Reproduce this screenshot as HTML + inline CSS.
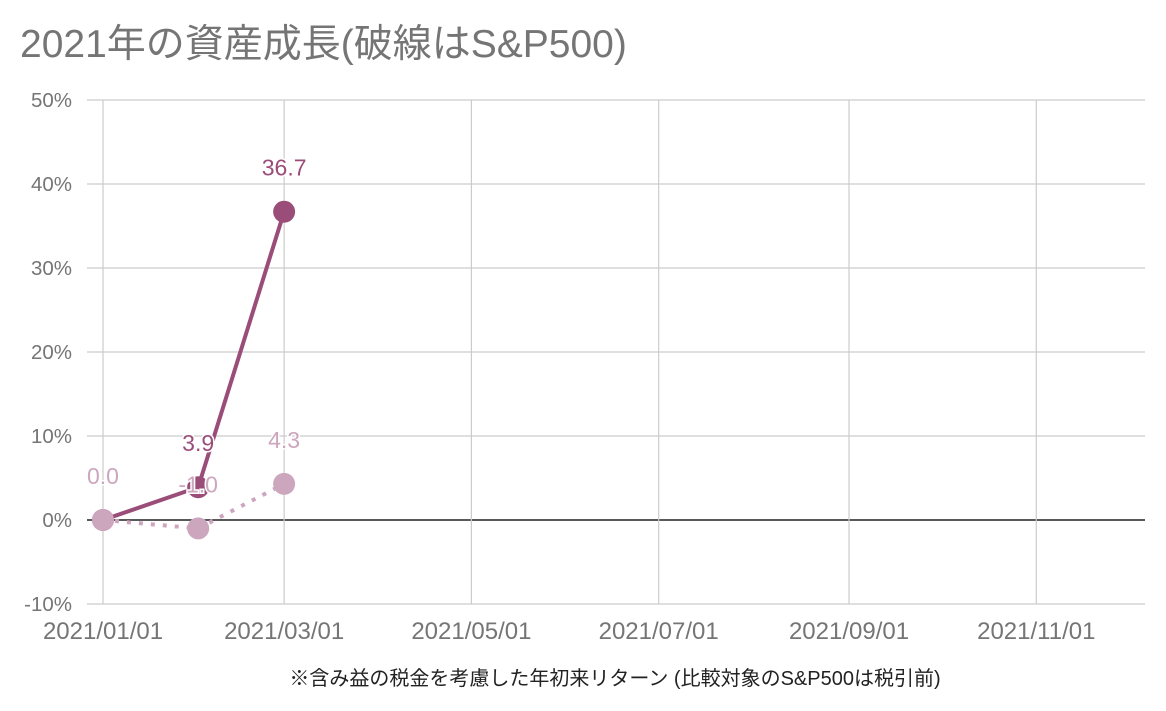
<!DOCTYPE html>
<html><head><meta charset="utf-8"><style>
body{margin:0;background:#fff;font-family:"Liberation Sans","Noto Sans CJK JP",sans-serif}
svg text{font-family:"Liberation Sans","Noto Sans CJK JP",sans-serif}
</style></head><body>
<svg width="1166" height="706" viewBox="0 0 1166 706" xmlns="http://www.w3.org/2000/svg">
<text x="20" y="57" font-size="39" fill="#757575">2021年の資産成長(破線はS&amp;P500)</text>
<g id="grid"></g><g id="series"></g>
<text x="615" y="685" font-size="20" fill="#222" text-anchor="middle">※含み益の税金を考慮した年初来リターン (比較対象のS&amp;P500は税引前)</text>
</svg>
<script>
const yTicks=[50,40,30,20,10,0,-10];
const xTickDays=[0,59,120,181,243,304];
const xTickLabels=["2021/01/01","2021/03/01","2021/05/01","2021/07/01","2021/09/01","2021/11/01"];
const pointDays=[0,31,59];
const portfolio=[0.0,3.9,36.7];
const sp500=[0.0,-1.0,4.3];
const NS="http://www.w3.org/2000/svg";
const y=v=>520-v*8.4, x=d=>103+d*3.07;
function el(t,a,p){const e=document.createElementNS(NS,t);for(const k in a)e.setAttribute(k,a[k]);p.appendChild(e);return e;}
const g=document.getElementById('grid'), s=document.getElementById('series');
yTicks.forEach(v=>{
 const l=el('line',{x1:87,x2:1145,y1:y(v),y2:y(v),stroke:v===0?'#222':'#ccc','stroke-width':v===0?1.5:1.2},g);
 
 
 const t=el('text',{x:72,y:y(v)+7,'font-size':20.5,fill:'#757575','text-anchor':'end'},g);t.textContent=v+'%';
 
 
});
xTickDays.forEach((d,i)=>{
 const l=el('line',{x1:x(d),x2:x(d),y1:100,y2:y(-10),stroke:'#ccc','stroke-width':1.2},g);
 
 
 const t=el('text',{x:x(d),y:639,'font-size':24,fill:'#757575','text-anchor':'middle'},g);t.textContent=xTickLabels[i];
 
 
});
function series(vals,color,dash,name){
 const pts=vals.map((v,i)=>x(pointDays[i])+','+y(v)).join(' ');
 const pl=el('polyline',{points:pts,fill:'none',stroke:color,'stroke-width':4,'stroke-dasharray':dash||'none'},s);
 
 
 vals.forEach((v,i)=>{
  const c=el('circle',{cx:x(pointDays[i]),cy:y(v),r:11,fill:color},s);
  
  
 });
}
function labels(vals,color,name){
 vals.forEach((v,i)=>{
  const t=el('text',{x:x(pointDays[i]),y:y(v)-36,'font-size':23,fill:color,'text-anchor':'middle',stroke:'#fff','stroke-width':3,'paint-order':'stroke'},s);
  t.textContent=v.toFixed(1);
  
  
 });
}
series(portfolio,'#9a4d78',null,'portfolio');
series(sp500,'#cca6bd','4 8','sp500');
labels(portfolio,'#9a4d78','portfolio');
labels(sp500,'#cca6bd','sp500');
</script>
</body></html>
